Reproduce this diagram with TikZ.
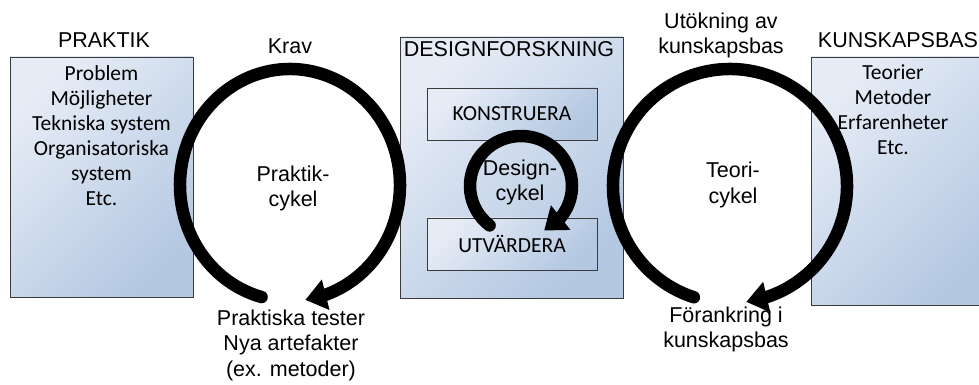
\documentclass[tikz,border=0pt]{standalone}
\usepackage{fontspec}
\setmainfont{Liberation Sans}
\newfontfamily\boxfont{Carlito}
\usetikzlibrary{arrows.meta,bending}

\definecolor{boxlight}{HTML}{E6ECF6}
\definecolor{boxdark}{HTML}{B4C8E2}
\definecolor{boxedge}{HTML}{3A3A3A}

\begin{document}
\begin{tikzpicture}[x=1pt,y=1pt,
  panel/.style={draw=boxedge, line width=0.9pt, shading=axis,
    left color=boxlight, right color=boxdark, shading angle=45,
    minimum width=#1, inner sep=0pt},
  panel/.default=183pt,
  heading/.style={font=\fontsize{21.5}{25}\selectfont, inner sep=0pt},
  label/.style={font=\fontsize{21.5}{25.5}\selectfont, align=center, inner sep=0pt},
  content/.style={font=\boxfont\fontsize{21.5}{25}\selectfont, align=center, inner sep=0pt},
  ring/.style={line width=12.5pt, line cap=round,
    -{Triangle[length=21pt,width=30pt]}}
]
\useasboundingbox (0,0) rectangle (979,385);
\fill[white] (0,0) rectangle (979,385);

% panels
\node[panel=183pt, minimum height=240pt] (praktik) at (101.5,208) {};
\node[panel=223pt, minimum height=261pt] (design) at (511.5,217.5) {};
\node[panel=183pt, minimum height=248pt] (kunskap) at (902.5,204) {};
\node[panel=170pt, minimum height=52pt] (konstr) at (512,271) {};
\node[panel=170pt, minimum height=52pt] (utv) at (512,141) {};

% cycle centres
\coordinate (lcen) at (290,200);
\coordinate (dcen) at (521,199);
\coordinate (rcen) at (730,199);

% cycles
\draw[ring] ([shift={(255:110pt and 116pt)}]lcen)
  arc[start angle=255, end angle=-82, x radius=110pt, y radius=116pt];
\draw[ring] ([shift={(232:51pt and 50pt)}]dcen)
  arc[start angle=232, end angle=-63, x radius=51pt, y radius=50pt];
\draw[ring] ([shift={(252:117pt and 117pt)}]rcen)
  arc[start angle=252, end angle=-82, x radius=117pt, y radius=117pt];

% headings
\node[heading] (praktikhead) at (104,345) {PRAKTIK};
\node[heading] (designhead) at (509,336) {DESIGNFORSKNING};
\node[heading] (kunskaphead) at (898,345) {KUNSKAPSBAS};

% panel contents
\node[content] (praktiktext) at (101.5,249.5)
  {Problem\\Möjligheter\\Tekniska system\\Organisatoriska\\system\\Etc.};
\node[content] (kunskaptext) at (893,275.5)
  {Teorier\\Metoder\\Erfarenheter\\Etc.};
\node[content] (konstrtext) at (konstr) {KONSTRUERA};
\node[content] (utvtext) at (utv) {UTVÄRDERA};

% cycle labels
\node[label] (krav) at (290,339) {Krav};
\node[label] (praktikcykel) at (293,196.5) {Praktik-\\cykel};
\node[label] (designcykel) at (520,202.5) {Design-\\cykel};
\node[label] (teoricykel) at (733,200) {Teori-\\cykel};
\node[label] (utokning) at (721,349.5) {Utökning av\\kunskapsbas};
\node[label] (tester) at (291,40) {Praktiska tester\\Nya artefakter\\(ex. metoder)};
\node[label] (forankring) at (726,55.5) {Förankring i\\kunskapsbas};
\end{tikzpicture}
\end{document}
